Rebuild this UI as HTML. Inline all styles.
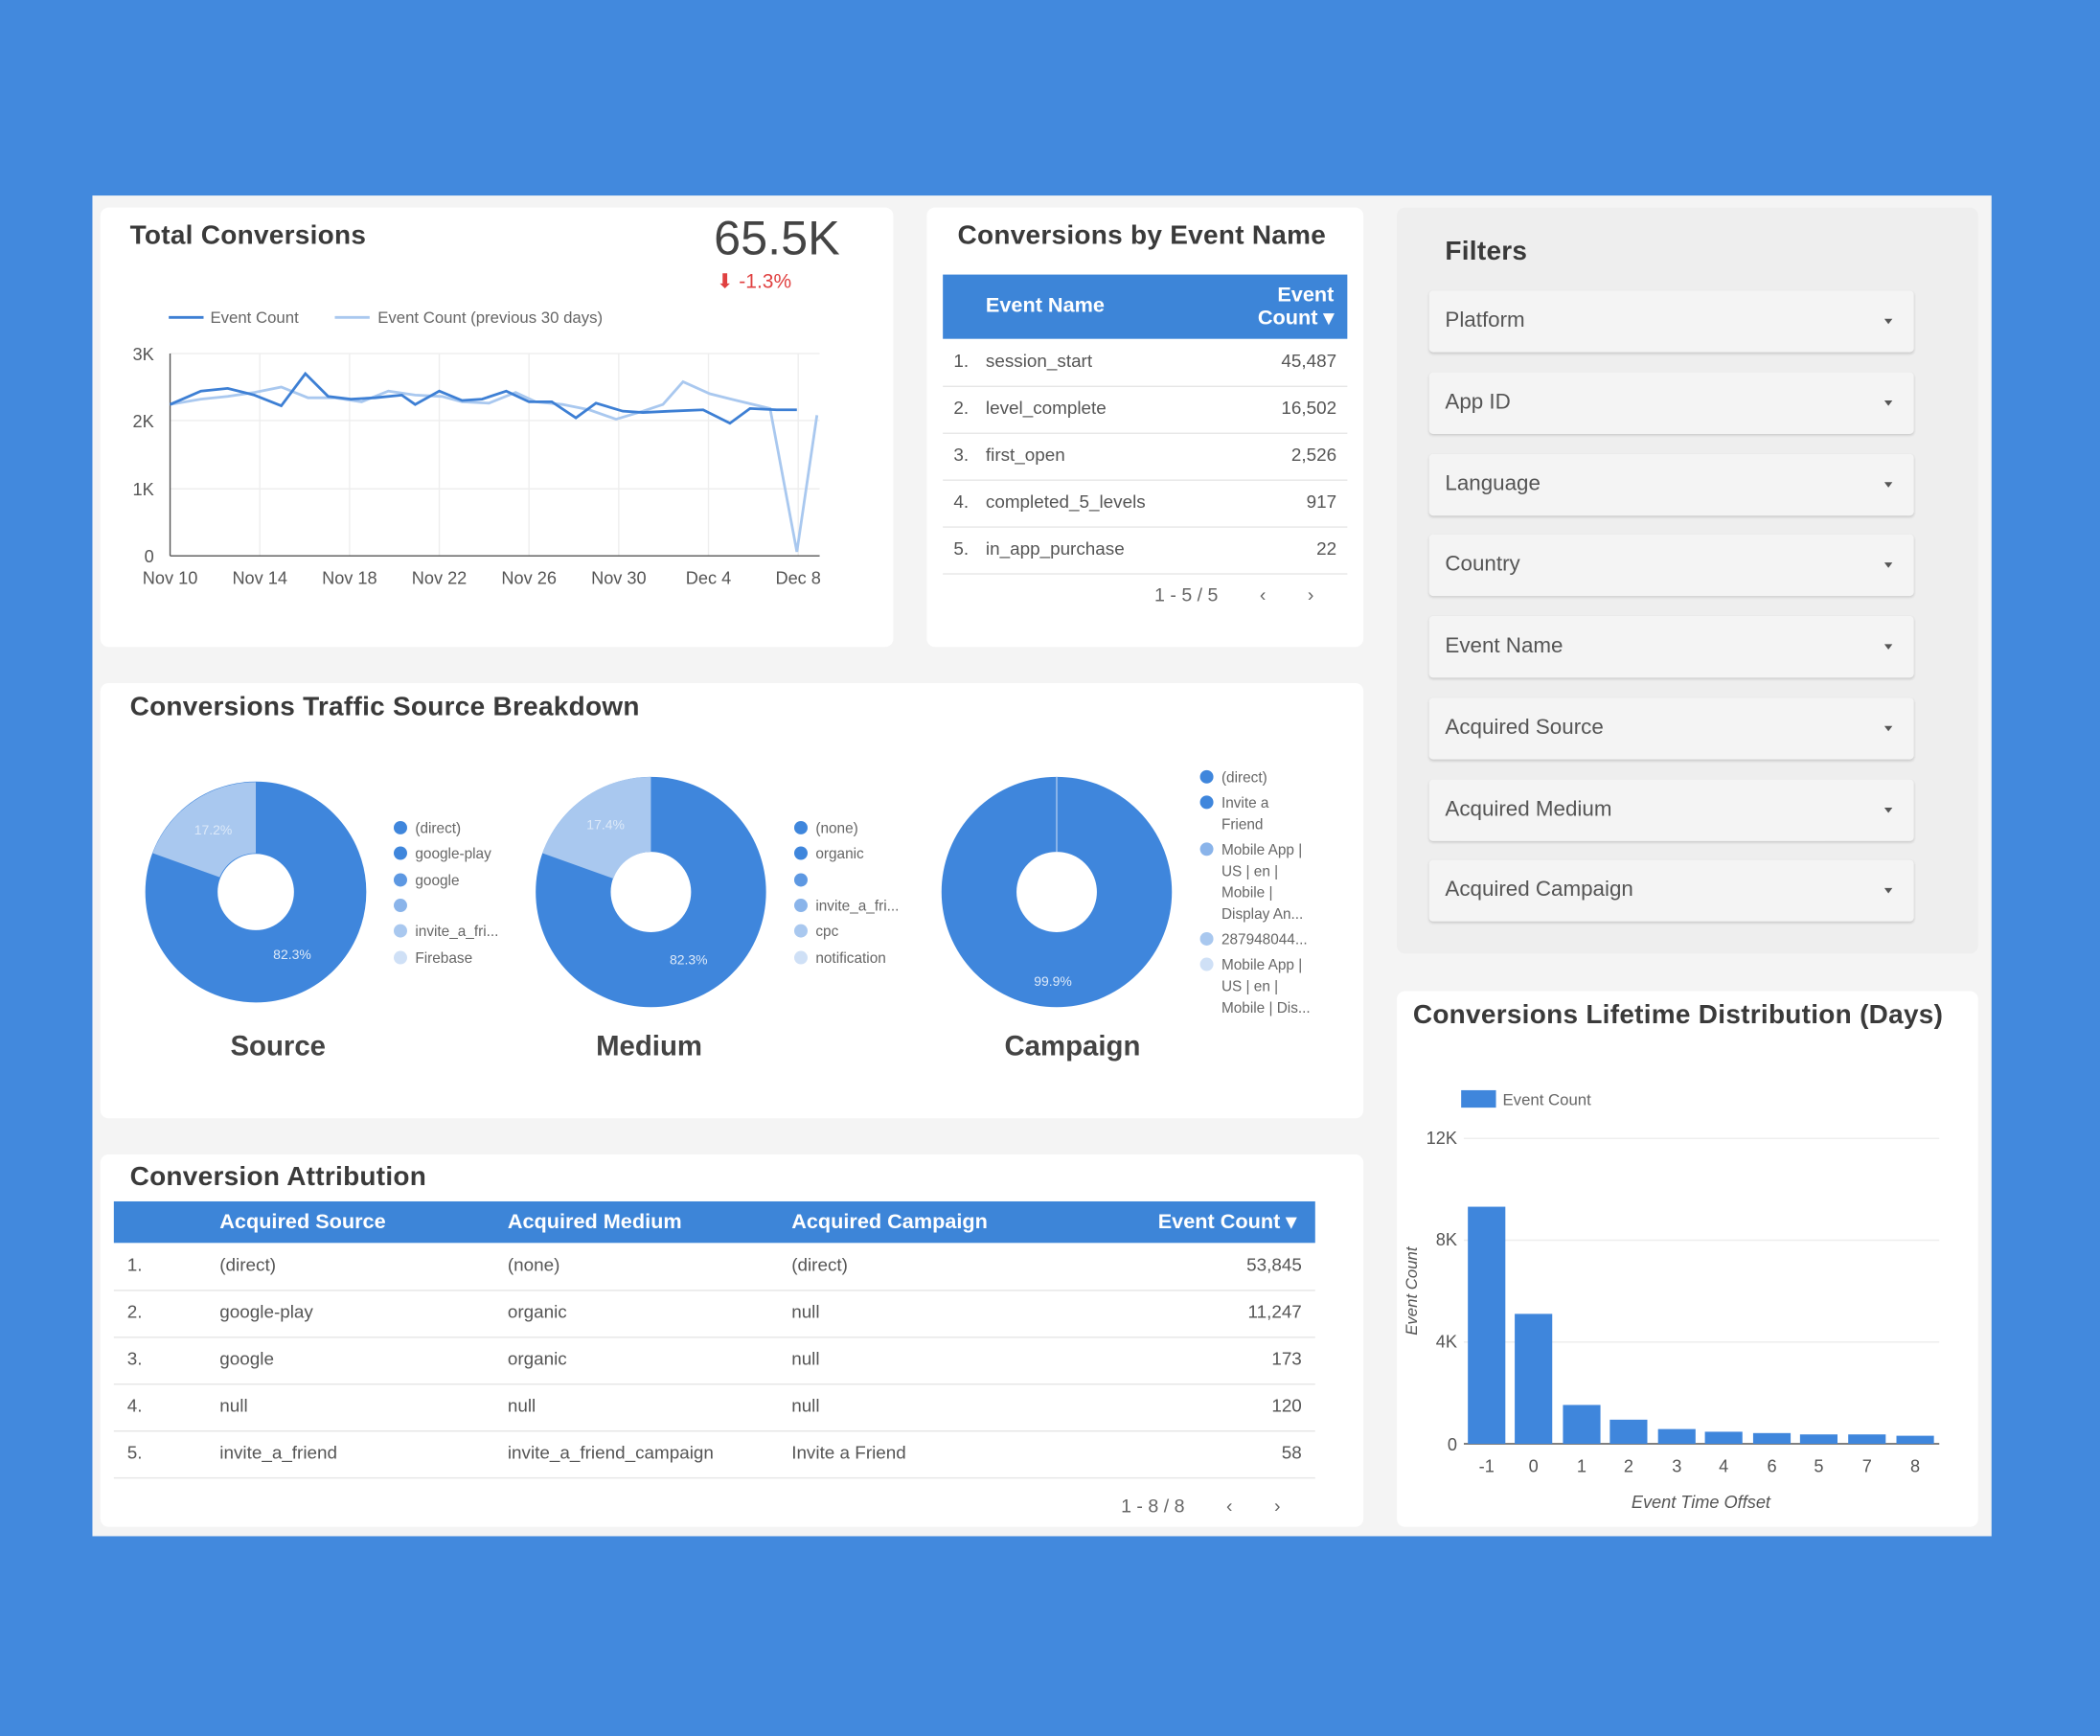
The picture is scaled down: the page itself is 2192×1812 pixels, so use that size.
<!DOCTYPE html>
<html><head><meta charset="utf-8"><style>
html,body{margin:0;padding:0;width:2192px;height:1812px;overflow:hidden;background:#4289dd;}
#w{position:absolute;left:0;top:0;width:1568px;height:1296px;transform:scale(1.39796);transform-origin:0 0;font-family:"Liberation Sans",sans-serif;color:#333;}
.abs{position:absolute;}
.card{position:absolute;background:#fff;border-radius:6px;}
.t{position:absolute;font-size:20px;color:#3a3a3a;font-weight:bold;letter-spacing:0.2px}
.dd{position:absolute;left:24px;width:362px;height:46px;background:#f4f4f4;border-radius:3px;box-shadow:0 1px 2px rgba(0,0,0,.15);font-size:16px;color:#555;line-height:46px;text-indent:12px}
.dd:after{content:"";position:absolute;right:16px;top:21px;border:3px solid transparent;border-top:4px solid #555;}
.row{position:absolute;height:35px;border-bottom:1px solid #e6e6e6;font-size:13.5px;color:#555;line-height:34px}
.row span{position:absolute}
.sm{font-size:11px;color:#666;position:absolute}
.hd{position:absolute;background:#3d85d8;color:#fff;font-weight:bold;font-size:15.5px}
</style></head><body><div id="w">
<div class="abs" style="left:69px;top:146px;width:1418px;height:1001px;background:#f4f4f4"></div>

<!-- Total conversions -->
<div class="card" style="left:75px;top:155px;width:592px;height:328px">
<div class="t" style="left:22px;top:10px">Total Conversions</div>
<div class="abs" style="left:458px;top:2px;font-size:36px;color:#444">65.5K</div>
<div class="abs" style="left:460px;top:46px;font-size:15px;color:#e04040">⬇ -1.3%</div>
</div>
<svg class="abs" style="left:0;top:0" width="1568" height="500">
<line x1="126" y1="237" x2="152" y2="237" stroke="#3d7fd4" stroke-width="2"/>
<text x="157" y="241" font-size="12" fill="#666" font-family="Liberation Sans">Event Count</text>
<line x1="250" y1="237" x2="276" y2="237" stroke="#a9c8ef" stroke-width="2"/>
<text x="282" y="241" font-size="12" fill="#666" font-family="Liberation Sans">Event Count (previous 30 days)</text>
<g stroke="#eee"><line x1="127" y1="264" x2="612" y2="264"/><line x1="127" y1="314" x2="612" y2="314"/><line x1="127" y1="365" x2="612" y2="365"/>
<line x1="194" y1="264" x2="194" y2="415"/><line x1="261" y1="264" x2="261" y2="415"/><line x1="328" y1="264" x2="328" y2="415"/><line x1="395" y1="264" x2="395" y2="415"/><line x1="462" y1="264" x2="462" y2="415"/><line x1="529" y1="264" x2="529" y2="415"/><line x1="596" y1="264" x2="596" y2="415"/></g>
<line x1="127" y1="264" x2="127" y2="415" stroke="#555"/><line x1="127" y1="415" x2="612" y2="415" stroke="#555"/>
<g font-size="13" fill="#555" font-family="Liberation Sans" text-anchor="end"><text x="115" y="269">3K</text><text x="115" y="319">2K</text><text x="115" y="370">1K</text><text x="115" y="420">0</text></g>
<g font-size="13" fill="#555" font-family="Liberation Sans" text-anchor="middle"><text x="127" y="436">Nov 10</text><text x="194" y="436">Nov 14</text><text x="261" y="436">Nov 18</text><text x="328" y="436">Nov 22</text><text x="395" y="436">Nov 26</text><text x="462" y="436">Nov 30</text><text x="529" y="436">Dec 4</text><text x="596" y="436">Dec 8</text></g>
<polyline fill="none" stroke="#a9c8ef" stroke-width="2" points="127,302 150,298 170,296 190,293 210,289 230,297 250,297 270,300 290,292 310,295 330,296 345,300 365,301 385,293 400,300 420,302 440,306 460,313 480,307 495,302 510,285 530,294 550,299 575,305 595,412 610,310"/>
<polyline fill="none" stroke="#3d7fd4" stroke-width="2" points="127,302 150,292 170,290 190,295 210,303 228,279 245,296 262,298 280,297 300,295 310,302 328,292 345,299 360,298 378,292 395,300 412,300 430,312 445,301 465,307 480,308 500,307 525,306 545,316 560,305 580,306 595,306"/>
</svg>

<!-- Event name -->
<div class="card" style="left:692px;top:155px;width:326px;height:328px">
<div class="t" style="left:23px;top:10px">Conversions by Event Name</div>
<div class="hd" style="left:12px;top:50px;width:302px;height:48px"><span class="abs" style="left:32px;top:15px">Event Name</span><span class="abs" style="right:10px;top:7px;text-align:right;line-height:17px">Event<br>Count ▾</span></div>
<div class="row" style="left:12px;top:98px;width:302px"><span style="left:8px">1.</span><span style="left:32px">session_start</span><span style="right:8px">45,487</span></div>
<div class="row" style="left:12px;top:133px;width:302px"><span style="left:8px">2.</span><span style="left:32px">level_complete</span><span style="right:8px">16,502</span></div>
<div class="row" style="left:12px;top:168px;width:302px"><span style="left:8px">3.</span><span style="left:32px">first_open</span><span style="right:8px">2,526</span></div>
<div class="row" style="left:12px;top:203px;width:302px"><span style="left:8px">4.</span><span style="left:32px">completed_5_levels</span><span style="right:8px">917</span></div>
<div class="row" style="left:12px;top:238px;width:302px"><span style="left:8px">5.</span><span style="left:32px">in_app_purchase</span><span style="right:8px">22</span></div>
<div class="abs" style="left:170px;top:281px;font-size:14px;color:#666">1 - 5 / 5 &nbsp;&nbsp;&nbsp;&nbsp;&nbsp;&nbsp;&nbsp;‹ &nbsp;&nbsp;&nbsp;&nbsp;&nbsp;&nbsp;&nbsp;›</div>
</div>

<!-- Filters -->
<div class="card" style="left:1043px;top:155px;width:434px;height:557px;background:#eeeeee">
<div class="t" style="left:36px;top:22px">Filters</div>
<div class="dd" style="top:62px">Platform</div>
<div class="dd" style="top:123px">App ID</div>
<div class="dd" style="top:184px">Language</div>
<div class="dd" style="top:244px">Country</div>
<div class="dd" style="top:305px">Event Name</div>
<div class="dd" style="top:366px">Acquired Source</div>
<div class="dd" style="top:427px">Acquired Medium</div>
<div class="dd" style="top:487px">Acquired Campaign</div>
</div>

<!-- Traffic -->
<div class="card" style="left:75px;top:510px;width:943px;height:325px">
<div class="t" style="left:22px;top:7px">Conversions Traffic Source Breakdown</div>
<div class="abs" style="left:97px;top:260px;font-size:21px;font-weight:bold;color:#444">Source</div>
<div class="abs" style="left:370px;top:260px;font-size:21px;font-weight:bold;color:#444">Medium</div>
<div class="abs" style="left:675px;top:260px;font-size:21px;font-weight:bold;color:#444">Campaign</div>
</div>
<svg class="abs" style="left:0;top:0" width="1100" height="800" font-family="Liberation Sans">
<circle cx="191" cy="666" r="55.5" fill="none" stroke="#3f86dc" stroke-width="54"/>
<path d="M191,584 A82,82 0 0 0 114,637 L164,655 A29,29 0 0 1 191,637 Z" fill="#a9c8ef"/>
<circle cx="486" cy="666" r="58" fill="none" stroke="#3f86dc" stroke-width="56"/>
<path d="M486,580 A86,86 0 0 0 405,637 L458,656 A30,30 0 0 1 486,636 Z" fill="#a9c8ef"/>
<circle cx="789" cy="666" r="58" fill="none" stroke="#3f86dc" stroke-width="56"/>
<line x1="789" y1="580" x2="789" y2="636" stroke="#a9c8ef" stroke-width="1"/>
<g font-size="10" fill="#dce9f9"><text x="145" y="623">17.2%</text><text x="204" y="716">82.3%</text><text x="438" y="619">17.4%</text><text x="500" y="720">82.3%</text><text x="772" y="736">99.9%</text></g>
<g font-size="11" fill="#666">
<circle cx="299" cy="618" r="5" fill="#3f86dc"/><text x="310" y="622">(direct)</text>
<circle cx="299" cy="637" r="5" fill="#3f86dc"/><text x="310" y="641">google-play</text>
<circle cx="299" cy="657" r="5" fill="#5d98e2"/><text x="310" y="661">google</text>
<circle cx="299" cy="676" r="5" fill="#8ab4ea"/>
<circle cx="299" cy="695" r="5" fill="#a9c8ef"/><text x="310" y="699">invite_a_fri...</text>
<circle cx="299" cy="715" r="5" fill="#cfe0f6"/><text x="310" y="719">Firebase</text>
<circle cx="598" cy="618" r="5" fill="#3f86dc"/><text x="609" y="622">(none)</text>
<circle cx="598" cy="637" r="5" fill="#3f86dc"/><text x="609" y="641">organic</text>
<circle cx="598" cy="657" r="5" fill="#5d98e2"/>
<circle cx="598" cy="676" r="5" fill="#8ab4ea"/><text x="609" y="680">invite_a_fri...</text>
<circle cx="598" cy="695" r="5" fill="#a9c8ef"/><text x="609" y="699">cpc</text>
<circle cx="598" cy="715" r="5" fill="#cfe0f6"/><text x="609" y="719">notification</text>
<circle cx="901" cy="580" r="5" fill="#3f86dc"/><text x="912" y="584">(direct)</text>
<circle cx="901" cy="599" r="5" fill="#3f86dc"/><text x="912" y="603">Invite a</text><text x="912" y="619">Friend</text>
<circle cx="901" cy="634" r="5" fill="#8ab4ea"/><text x="912" y="638">Mobile App |</text><text x="912" y="654">US | en |</text><text x="912" y="670">Mobile |</text><text x="912" y="686">Display An...</text>
<circle cx="901" cy="701" r="5" fill="#a9c8ef"/><text x="912" y="705">287948044...</text>
<circle cx="901" cy="720" r="5" fill="#cfe0f6"/><text x="912" y="724">Mobile App |</text><text x="912" y="740">US | en |</text><text x="912" y="756">Mobile | Dis...</text>
</g></svg>

<!-- Attribution -->
<div class="card" style="left:75px;top:862px;width:943px;height:278px">
<div class="t" style="left:22px;top:6px">Conversion Attribution</div>
<div class="hd" style="left:10px;top:35px;width:897px;height:31px;line-height:31px"><span class="abs" style="left:79px">Acquired Source</span><span class="abs" style="left:294px">Acquired Medium</span><span class="abs" style="left:506px">Acquired Campaign</span><span class="abs" style="right:14px">Event Count ▾</span></div>
<div class="row" style="left:10px;top:66px;width:897px"><span style="left:10px">1.</span><span style="left:79px">(direct)</span><span style="left:294px">(none)</span><span style="left:506px">(direct)</span><span style="right:10px">53,845</span></div>
<div class="row" style="left:10px;top:101px;width:897px"><span style="left:10px">2.</span><span style="left:79px">google-play</span><span style="left:294px">organic</span><span style="left:506px">null</span><span style="right:10px">11,247</span></div>
<div class="row" style="left:10px;top:136px;width:897px"><span style="left:10px">3.</span><span style="left:79px">google</span><span style="left:294px">organic</span><span style="left:506px">null</span><span style="right:10px">173</span></div>
<div class="row" style="left:10px;top:171px;width:897px"><span style="left:10px">4.</span><span style="left:79px">null</span><span style="left:294px">null</span><span style="left:506px">null</span><span style="right:10px">120</span></div>
<div class="row" style="left:10px;top:206px;width:897px"><span style="left:10px">5.</span><span style="left:79px">invite_a_friend</span><span style="left:294px">invite_a_friend_campaign</span><span style="left:506px">Invite a Friend</span><span style="right:10px">58</span></div>
<div class="abs" style="left:762px;top:254px;font-size:14px;color:#666">1 - 8 / 8 &nbsp;&nbsp;&nbsp;&nbsp;&nbsp;&nbsp;&nbsp;‹ &nbsp;&nbsp;&nbsp;&nbsp;&nbsp;&nbsp;&nbsp;›</div>
</div>

<!-- Lifetime -->
<div class="card" style="left:1043px;top:740px;width:434px;height:400px">
<div class="t" style="left:12px;top:7px">Conversions Lifetime Distribution (Days)</div>
</div>
<svg class="abs" style="left:0;top:0" width="1568" height="1296" font-family="Liberation Sans">
<rect x="1091" y="814" width="26" height="13" fill="#3f86dc"/><text x="1122" y="825" font-size="12" fill="#666">Event Count</text>
<g stroke="#eee"><line x1="1093" y1="850" x2="1448" y2="850"/><line x1="1093" y1="926" x2="1448" y2="926"/><line x1="1093" y1="1002" x2="1448" y2="1002"/></g>
<line x1="1093" y1="1078" x2="1448" y2="1078" stroke="#555"/>
<g font-size="13" fill="#555" text-anchor="end"><text x="1088" y="854">12K</text><text x="1088" y="930">8K</text><text x="1088" y="1006">4K</text><text x="1088" y="1083">0</text></g>
<g fill="#3f86dc"><rect x="1096" y="901" width="28" height="177"/><rect x="1131" y="981" width="28" height="97"/><rect x="1167" y="1049" width="28" height="29"/><rect x="1202" y="1060" width="28" height="18"/><rect x="1238" y="1067" width="28" height="11"/><rect x="1273" y="1069" width="28" height="9"/><rect x="1309" y="1070" width="28" height="8"/><rect x="1344" y="1071" width="28" height="7"/><rect x="1380" y="1071" width="28" height="7"/><rect x="1416" y="1072" width="28" height="6"/></g>
<g font-size="13" fill="#555" text-anchor="middle"><text x="1110" y="1099">-1</text><text x="1145" y="1099">0</text><text x="1181" y="1099">1</text><text x="1216" y="1099">2</text><text x="1252" y="1099">3</text><text x="1287" y="1099">4</text><text x="1323" y="1099">6</text><text x="1358" y="1099">5</text><text x="1394" y="1099">7</text><text x="1430" y="1099">8</text></g>
<text x="1270" y="1126" font-size="13" fill="#555" font-style="italic" text-anchor="middle">Event Time Offset</text>
<text transform="translate(1058,964) rotate(-90)" font-size="12" fill="#555" font-style="italic" text-anchor="middle">Event Count</text>
</svg>
</div></body></html>
